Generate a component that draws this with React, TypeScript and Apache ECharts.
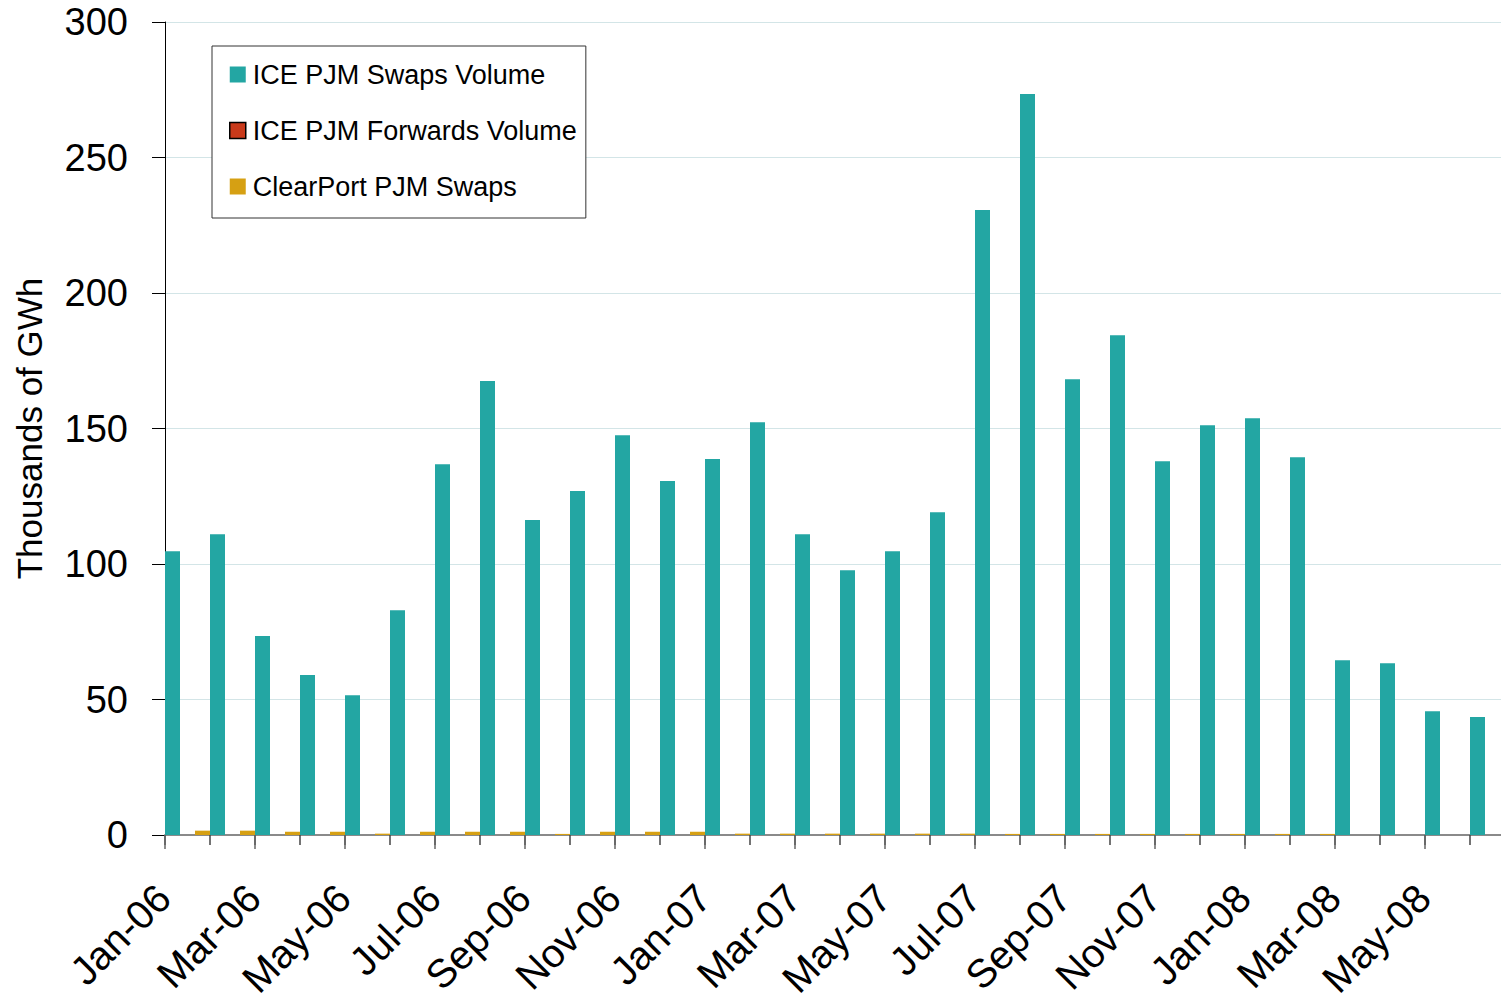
import React, { useEffect, useRef } from "react";
import * as echarts from "echarts";

const categories = [
  "Jan-06", "Feb-06", "Mar-06", "Apr-06", "May-06", "Jun-06", "Jul-06", "Aug-06", "Sep-06", "Oct-06", "Nov-06", "Dec-06",
  "Jan-07", "Feb-07", "Mar-07", "Apr-07", "May-07", "Jun-07", "Jul-07", "Aug-07", "Sep-07", "Oct-07", "Nov-07", "Dec-07",
  "Jan-08", "Feb-08", "Mar-08", "Apr-08", "May-08", "Jun-08",
];

const iceSwaps = [
  104.7, 111.0, 73.4, 59.0, 51.6, 82.9, 136.8, 167.5, 116.2, 126.9, 147.5, 130.6,
  138.7, 152.3, 111.0, 97.7, 104.7, 119.1, 230.6, 273.4, 168.2, 184.4, 137.9, 151.2,
  153.8, 139.4, 64.5, 63.4, 45.7, 43.5,
];

const iceForwards = [
  0, 0, 0, 0, 0, 0, 0, 0, 0, 0, 0, 0,
  0, 0, 0, 0, 0, 0, 0, 0, 0, 0, 0, 0,
  0, 0, 0, 0, 0, 0,
];

const clearPort = [
  1.6, 1.6, 1.2, 1.2, 0.5, 1.2, 1.2, 1.2, 0.4, 1.2, 1.2, 1.2,
  0.5, 0.5, 0.5, 0.5, 0.5, 0.5, 0.4, 0.4, 0.4, 0.4, 0.4, 0.4,
  0.4, 0.4, 0, 0, 0, 0,
];

const seriesNames = ["ICE PJM Swaps Volume", "ICE PJM Forwards Volume", "ClearPort PJM Swaps"];

const FONT = "'Liberation Sans', Arial, Helvetica, sans-serif";

export default function App() {
  const ref = useRef<HTMLDivElement>(null);

  useEffect(() => {
    if (!ref.current) return;
    const chart = echarts.init(ref.current, undefined, { renderer: "svg" });
    const colors = ["#23a6a3", "#c93a1b", "#d6a013"];
    chart.setOption({
      animation: false,
      backgroundColor: "#ffffff",
      textStyle: { fontFamily: FONT },
      grid: { left: 165, top: 22, width: 1350, height: 813, containLabel: false, outerBoundsMode: "none" },
      legend: {
        orient: "vertical",
        left: 212,
        top: 46,
        padding: [13, 9, 16, 17],
        itemWidth: 16,
        itemHeight: 16,
        itemGap: 25,
        borderColor: "#333333",
        borderWidth: 1,
        backgroundColor: "#ffffff",
        icon: "rect",
        textStyle: { fontSize: 27, color: "#000", fontFamily: FONT, padding: [0, 0, 0, 2], lineHeight: 31 },
        data: [
          { name: seriesNames[0] },
          { name: seriesNames[1], itemStyle: { borderColor: "#000", borderWidth: 1.5 } },
          { name: seriesNames[2] },
        ],
      },
      xAxis: [
        {
          type: "category",
          data: categories,
          position: "bottom",
          axisLine: { lineStyle: { color: "#8a8a8a", width: 2 } },
          axisTick: { show: true, interval: 0, length: 10, lineStyle: { color: "#444", width: 1.5 } },
          axisLabel: {
            interval: 1,
            rotate: 45,
            fontSize: 40,
            color: "#000",
            fontFamily: FONT,
            margin: 32,
            padding: [0, 34, 0, 0],
          },
        },
        {
          type: "category",
          data: categories,
          position: "bottom",
          axisLine: { show: false },
          axisTick: { show: true, interval: 1, length: 14, lineStyle: { color: "#666", width: 1.5 } },
          axisLabel: { show: false },
        },
      ],
      yAxis: {
        type: "value",
        min: 0,
        max: 300,
        interval: 50,
        name: "Thousands of GWh",
        nameLocation: "middle",
        nameGap: 118,
        nameRotate: 90,
        nameTextStyle: { fontSize: 35, color: "#000", fontFamily: FONT },
        axisLine: { show: true, lineStyle: { color: "#000", width: 1 } },
        axisTick: { show: true, length: 13, lineStyle: { color: "#000" } },
        axisLabel: { fontSize: 38, color: "#000", fontFamily: FONT, margin: 37, padding: [6, 0, 0, 0] },
        splitLine: { lineStyle: { color: "#d3e5e7", width: 1.2 } },
      },
      series: [
        {
          name: seriesNames[0],
          type: "bar",
          data: iceSwaps,
          itemStyle: { color: colors[0] },
          barGap: "0%",
          barCategoryGap: "0%",
        },
        {
          name: seriesNames[1],
          type: "bar",
          data: iceForwards,
          itemStyle: { color: colors[1] },
          barGap: "0%",
          barCategoryGap: "0%",
        },
        {
          name: seriesNames[2],
          type: "bar",
          data: clearPort,
          itemStyle: { color: colors[2] },
          barGap: "0%",
          barCategoryGap: "0%",
        },
      ],
    });
    return () => chart.dispose();
  }, []);

  return (
    <div
      ref={ref}
      style={{ position: "absolute", left: 0, top: 0, width: 1501, height: 1000 }}
    />
  );
}
